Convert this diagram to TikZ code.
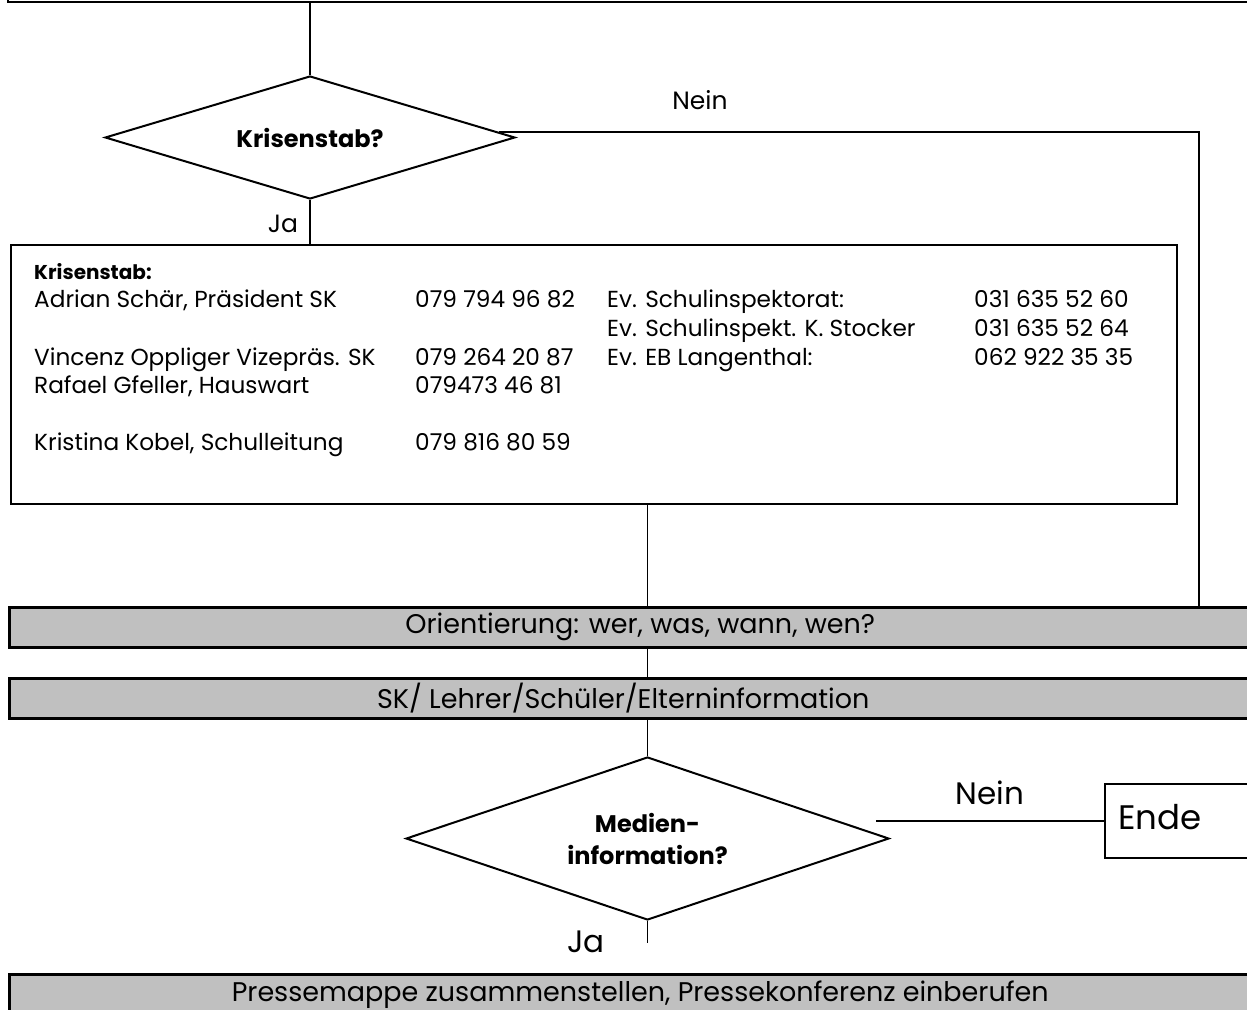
\documentclass[tikz,border=0pt]{standalone}
\usepackage{fontspec}
\setmainfont{Poppins}
\usetikzlibrary{shapes.geometric,calc}
\definecolor{barfill}{HTML}{C0C0C0}
\begin{document}
\begin{tikzpicture}[x=1pt,y=-1pt,
  box/.style={draw, line width=2pt, rectangle, inner sep=0pt, anchor=north west},
  bar/.style={draw, line width=2.5pt, fill=barfill, inner sep=0pt, anchor=north west,
    minimum height=40pt, minimum width=1262pt, font=\fontsize{27}{31}\selectfont},
  dec/.style={draw, line width=2pt, diamond, inner sep=0pt, align=center},
  conn/.style={line width=1.5pt},
  lbl/.style={font=\fontsize{25}{29}\selectfont, inner sep=0pt},
  lblbig/.style={font=\fontsize{31}{35}\selectfont, inner sep=0pt},
  txt/.style={font=\fontsize{23.2}{27}\selectfont, inner sep=0pt, anchor=base west}]
\clip (0,0) rectangle (1247,1009);
% top box (partially visible)
\node[box, anchor=south west, minimum width=1300pt, minimum height=60pt] (top) at (7,3) {};
% decision 1
\node[dec, aspect=3.33, minimum width=410pt, minimum height=123pt, font=\bfseries\fontsize{24}{28}\selectfont] (d1) at (310,137.5) {Krisenstab?};
% Krisenstab box
\node[box, minimum width=1166pt, minimum height=259pt] (ks) at (10,244) {};
% bars
\node[bar] (b1) at (8,606) {Orientierung: wer, was, wann, wen?};
\node[bar] (b2) at (8,677) {SK/ Lehrer/Schüler/Elterninformation\hspace*{34pt}};
\node[bar] (b3) at (8,973) {Pressemappe zusammenstellen, Pressekonferenz einberufen};
% decision 2
\node[dec, aspect=2.96, minimum width=483pt, minimum height=163pt, font=\bfseries\fontsize{24}{32}\selectfont] (d2) at (647.5,838.5) {Medien-\\information?};
% Ende box
\node[box, minimum width=200pt, minimum height=74pt] (ende) at (1104,783) {};
\node[font=\fontsize{34}{38}\selectfont, inner sep=0pt] (endetxt) at (1160,817) {Ende};
% contact texts
\node[txt, font=\bfseries\fontsize{20}{24}\selectfont] (kst) at (34,279) {Krisenstab:};
\node[txt] (n1) at (34,307) {Adrian Schär, Präsident SK};
\node[txt] (p1) at (415,307) {079 794 96 82};
\node[txt] (n2) at (34,365) {Vincenz Oppliger Vizepräs. SK};
\node[txt] (p2) at (415,365) {079 264 20 87};
\node[txt] (n3) at (34,393) {Rafael Gfeller, Hauswart};
\node[txt] (p3) at (415,393) {079473 46 81};
\node[txt] (n4) at (34,450) {Kristina Kobel, Schulleitung};
\node[txt] (p4) at (415,450) {079 816 80 59};
\node[txt] (e1) at (607,307) {Ev. Schulinspektorat:};
\node[txt] (q1) at (974,307) {031 635 52 60};
\node[txt] (e2) at (607,336) {Ev. Schulinspekt. K. Stocker};
\node[txt] (q2) at (974,336) {031 635 52 64};
\node[txt] (e3) at (607,365) {Ev. EB Langenthal:};
\node[txt] (q3) at (974,365) {062 922 35 35};
% labels
\node[lbl] (nein1) at (700,100) {Nein};
\node[lbl] (ja1) at (283,224) {Ja};
\node[lblbig] (nein2) at (990,793) {Nein};
\node[lblbig] (ja2) at (586,942) {Ja};
% connectors
\coordinate (s1) at ($(d1.east)+(-17,-5.5)$);
\coordinate (r1) at (1199,132);
\coordinate (s2) at ($(d2.east)+(-14,0)$);
\coordinate (j2) at ($(d2.south)+(0,22)$);
\draw[conn] (top.south -| d1.north) -- (d1.north);
\draw[conn] (d1.south) -- (d1.south |- ks.north);
\draw[conn] (s1) -- (r1) -- (r1 |- b1.north);
\draw[conn] (ks.south -| d2.north) -- (b1.north -| d2.north);
\draw[conn] (b1.south -| d2.north) -- (b2.north -| d2.north);
\draw[conn] (b2.south -| d2.north) -- (d2.north);
\draw[conn] (s2 |- ende.west) -- (ende.west);
\draw[conn] (d2.south) -- (j2);
\end{tikzpicture}
\end{document}
